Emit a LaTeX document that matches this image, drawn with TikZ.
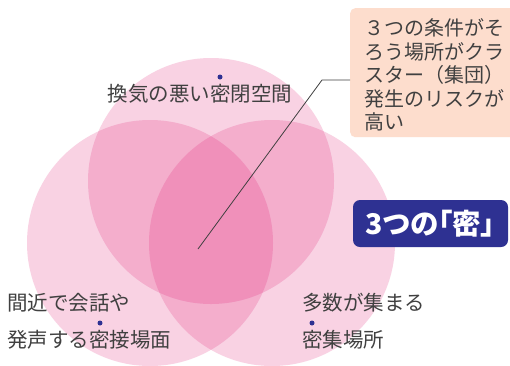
\documentclass[tikz,border=0pt]{standalone}
\usepackage{fontspec}
\newfontfamily\jp{Noto Sans CJK JP}
\newfontfamily\jpb[RawFeature=+palt]{Noto Sans CJK JP}
\definecolor{navy}{RGB}{46,49,146}
\definecolor{textgray}{RGB}{64,64,64}
\definecolor{peach}{RGB}{253,221,205}
\definecolor{vennpink}{RGB}{222,11,105}
\begin{document}
\begin{tikzpicture}[x=1pt,y=-1pt,
  venn/.style={fill=vennpink,fill opacity=0.18,draw=none},
  lbl/.style={font=\jp\fontsize{20.5}{23.5}\selectfont,text=textgray,inner sep=0},
  navydot/.style={circle,fill=navy,inner sep=0,minimum size=5pt},
  leader/.style={draw=textgray,line width=0.8pt}]
\useasboundingbox (0,0) rectangle (510,365);
\fill[white] (0,0) rectangle (510,365);
% circles
\path[venn] (211,181) circle[radius=123];
\path[venn] (150,243) circle[radius=123];
\path[venn] (272,243) circle[radius=123];
% callout box
\node[fill=peach,rounded corners=5pt,minimum width=168pt,minimum height=129pt,anchor=north west,inner sep=0] (callout) at (350,8) {};
\node[font=\jp\fontsize{20}{23.5}\selectfont,text=textgray,inner sep=0,anchor=north west,align=left] (callouttext) at (364,18.5) {３つの条件がそ\\ろう場所がクラ\\スター（集団）\\発生のリスクが\\高い};
% leader
\coordinate (lp) at (198,249);
\coordinate (lk) at (322,80);
\draw[leader] (lp) -- (lk) -- (callout.west |- lk);
% labels
\node[lbl] (top) at (200,94) {換気の悪い密閉空間};
\node[navydot] (dtop) at (220,77) {};
\node[lbl,anchor=west] (l1) at (7,303) {間近で会話や};
\node[lbl,anchor=west] (l2) at (7,340) {発声する密接場面};
\node[navydot] (dleft) at (100,323) {};
\node[lbl,anchor=west] (r1) at (302,303) {多数が集まる};
\node[lbl,anchor=west] (r2) at (302,340) {密集場所};
\node[navydot] (dright) at (312,323) {};
% title box
\node[fill=navy,rounded corners=7pt,minimum width=155pt,minimum height=47pt,text=white,font=\jpb\bfseries\fontsize{28.5}{32}\selectfont,inner sep=0] (mitsu) at (430.5,223.5) {3つの「密」};
\end{tikzpicture}
\end{document}
